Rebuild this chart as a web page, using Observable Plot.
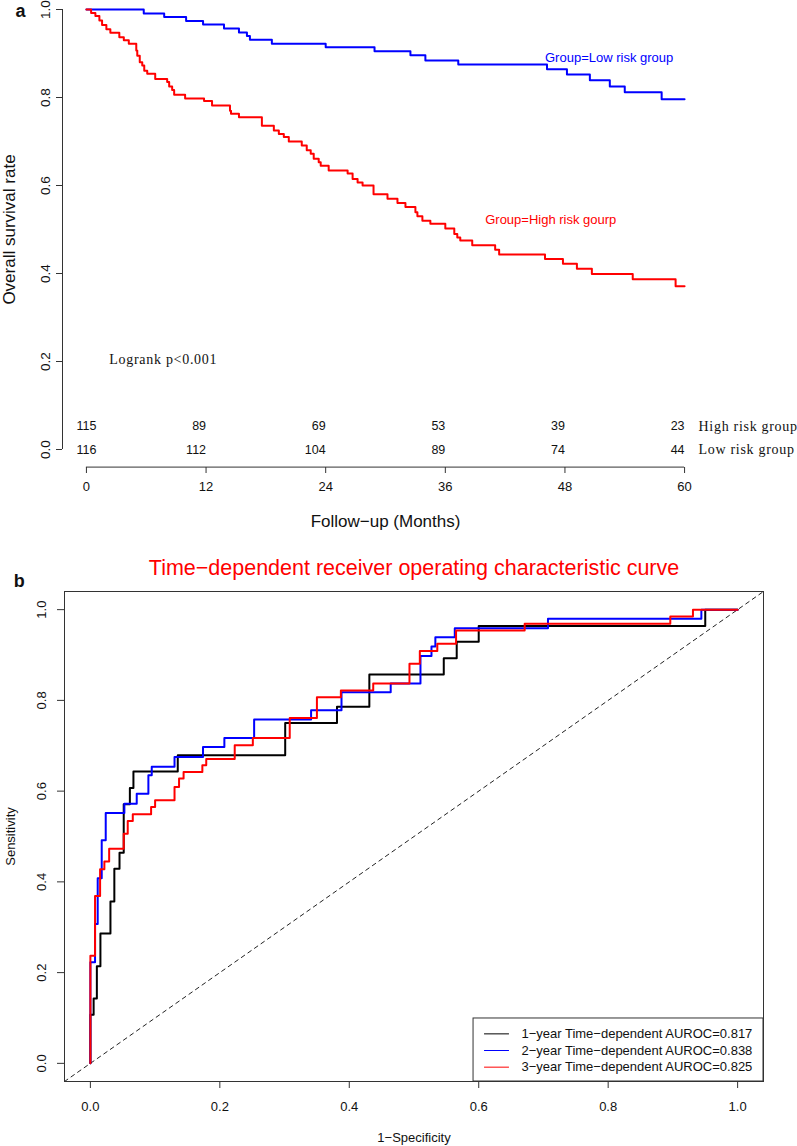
<!DOCTYPE html>
<html><head><meta charset="utf-8">
<script src="https://cdn.jsdelivr.net/npm/d3@7"></script>
<script src="https://cdn.jsdelivr.net/npm/@observablehq/plot@0.6"></script>
<style>
html,body{margin:0;padding:0;background:#fff;}
#chart{width:797px;}
#chart svg{display:block;}
</style></head><body><div id="chart"></div>
<script>
// ---------- Panel a: Kaplan-Meier ----------
const lowTime = [0, 5.75, 7.8, 10.0, 11.7, 13.8, 15.3, 16.1, 16.4, 18.6, 24.0, 28.9, 32.5, 34.0, 37.3, 46.2, 48.2, 50.5, 52.5, 54.0, 57.7, 60];
const lowSurv = [1.0, 0.991, 0.983, 0.974, 0.966, 0.957, 0.948, 0.940, 0.931, 0.922, 0.914, 0.905, 0.896, 0.884, 0.875, 0.864, 0.852, 0.839, 0.825, 0.812, 0.796, 0.796];
const highTime = [0, 0.47, 0.9, 1.3, 1.57, 2.0, 2.4, 3.3, 3.75, 4.25, 5.0, 5.1, 5.35, 5.6, 5.8, 6.1, 6.9, 8.1, 8.3, 8.6, 8.8, 9.9, 11.8, 12.6, 14.4, 14.5, 15.3, 17.6, 18.8, 19.3, 19.8, 20.3, 21.6, 22.1, 22.5, 22.8, 23.3, 23.5, 24.3, 26.2, 26.7, 27.2, 27.7, 28.8, 30.2, 31.2, 32.0, 33.0, 33.2, 33.7, 34.5, 36.0, 36.9, 37.2, 37.5, 38.7, 41.0, 41.4, 46.0, 47.8, 49.2, 50.7, 54.8, 59.1, 60];
const highSurv = [1.0, 0.992, 0.985, 0.975, 0.965, 0.955, 0.947, 0.937, 0.930, 0.922, 0.907, 0.895, 0.880, 0.873, 0.861, 0.854, 0.842, 0.835, 0.825, 0.817, 0.806, 0.798, 0.792, 0.782, 0.770, 0.763, 0.755, 0.736, 0.725, 0.717, 0.710, 0.700, 0.691, 0.680, 0.672, 0.661, 0.653, 0.645, 0.634, 0.627, 0.615, 0.607, 0.600, 0.580, 0.570, 0.560, 0.551, 0.539, 0.530, 0.520, 0.513, 0.502, 0.490, 0.482, 0.475, 0.464, 0.454, 0.443, 0.433, 0.422, 0.411, 0.399, 0.387, 0.371, 0.371];
const kmTicksX = [0, 12, 24, 36, 48, 60];
const kmTicksY = [0, 0.2, 0.4, 0.6, 0.8, 1.0];
const riskHigh = [115, 89, 69, 53, 39, 23];
const riskLow = [116, 112, 104, 89, 74, 44];
const groupLabels = ["High risk group", "Low risk group"];

// ---------- Panel b: time-dependent ROC ----------
const fpr1 = [0, 0, 0.005, 0.010, 0.0155, 0.031, 0.037, 0.045, 0.0515, 0.061, 0.0665, 0.135, 0.301, 0.381, 0.431, 0.546, 0.566, 0.600, 0.950, 1.0];
const tpr1 = [0, 0.107, 0.143, 0.214, 0.286, 0.357, 0.429, 0.464, 0.571, 0.607, 0.643, 0.679, 0.750, 0.786, 0.857, 0.893, 0.929, 0.964, 1.0, 1.0];
const fpr2 = [0, 0, 0.0072, 0.0113, 0.0175, 0.0237, 0.0525, 0.0716, 0.0896, 0.0948, 0.130, 0.174, 0.207, 0.253, 0.341, 0.388, 0.464, 0.510, 0.527, 0.533, 0.563, 0.707, 0.944, 1.0];
const tpr2 = [0, 0.223, 0.307, 0.408, 0.492, 0.552, 0.572, 0.594, 0.635, 0.654, 0.675, 0.697, 0.717, 0.758, 0.778, 0.818, 0.837, 0.898, 0.919, 0.939, 0.959, 0.980, 1.0, 1.0];
const fpr3 = [0, 0, 0.0072, 0.015, 0.0216, 0.029, 0.0515, 0.0577, 0.0655, 0.0938, 0.100, 0.130, 0.137, 0.144, 0.173, 0.179, 0.223, 0.251, 0.308, 0.350, 0.387, 0.437, 0.493, 0.509, 0.536, 0.565, 0.671, 0.896, 0.931, 1.0];
const tpr3 = [0, 0.237, 0.369, 0.428, 0.445, 0.473, 0.506, 0.534, 0.549, 0.565, 0.580, 0.609, 0.628, 0.642, 0.657, 0.671, 0.701, 0.717, 0.761, 0.807, 0.822, 0.837, 0.881, 0.909, 0.925, 0.954, 0.969, 0.985, 1.0, 1.0];
const rocTicks = [0, 0.2, 0.4, 0.6, 0.8, 1.0];
const diagonal = [-0.04, 1.04];
const legendLabels = ["1\u2212year Time\u2212dependent AUROC=0.817", "2\u2212year Time\u2212dependent AUROC=0.838", "3\u2212year Time\u2212dependent AUROC=0.825"];

// styles
const BLUE = "#0000ff", RED = "#ff0000", BLACK = "#000000";
const SANS = "Liberation Sans, Arial, Helvetica, sans-serif";
const SERIF = "Liberation Serif";
const AX = "#333";

const zip = (xs, ys) => xs.map((x, i) => ({x, y: ys[i]}));
const lowData = zip(lowTime, lowSurv);
const highData = zip(highTime, highSurv);
const riskRows = kmTicksX.map((t, i) => ({t, high: riskHigh[i], low: riskLow[i], i}));

const plotA = Plot.plot({
  width: 797, height: 540,
  marginLeft: 62, marginRight: 89, marginTop: 0, marginBottom: 73,
  style: {fontFamily: SANS, fontSize: "13px", color: "#111", background: "#fff", overflow: "visible"},
  x: {domain: [-2.4, 62.4], axis: null},
  y: {domain: [0, 1], range: [449, 9], axis: null},
  marks: [
    Plot.ruleX([-2.4], {y1: 0, y2: 1, stroke: AX}),
    Plot.ruleY([-0.04], {x1: 0, x2: 60, stroke: AX}),
    Plot.axisY(kmTicksY, {anchor: "left", tickSize: 6, tickRotate: -90, tickPadding: 6.7, fontSize: 13.5, stroke: AX, tickFormat: d3.format(".1f"), label: null}),
    Plot.axisX(kmTicksX, {anchor: "bottom", tickSize: 6, tickPadding: 8.7, fontSize: 13, stroke: AX, label: null}),
    Plot.line(lowData, {x: "x", y: "y", curve: "step-after", stroke: BLUE, strokeWidth: 2}),
    Plot.line(highData, {x: "x", y: "y", curve: "step-after", stroke: RED, strokeWidth: 2}),
    Plot.text(["Group=Low risk group"], {x: 46, y: 0.89, text: d => d, fill: BLUE, fontSize: 13, textAnchor: "start", lineAnchor: "middle"}),
    Plot.text(["Group=High risk gourp"], {x: 40, y: 0.521, text: d => d, fill: RED, fontSize: 13, textAnchor: "start", lineAnchor: "middle"}),
    Plot.text(["Logrank p<0.001"], {x: 2.3, y: 0.205, text: d => d, fontFamily: SERIF, fontSize: 14, textAnchor: "start", lineAnchor: "middle"}),
    Plot.text(riskRows, {filter: d => d.i === 0, x: "t", y: 0.053, text: "high", fontSize: 12.5, textAnchor: "middle", lineAnchor: "middle"}),
    Plot.text(riskRows, {filter: d => d.i > 0, x: "t", y: 0.053, text: "high", fontSize: 12.5, textAnchor: "end", lineAnchor: "middle"}),
    Plot.text(riskRows, {filter: d => d.i === 0, x: "t", y: 0, text: "low", fontSize: 12.5, textAnchor: "middle", lineAnchor: "middle"}),
    Plot.text(riskRows, {filter: d => d.i > 0, x: "t", y: 0, text: "low", fontSize: 12.5, textAnchor: "end", lineAnchor: "middle"}),
    Plot.text(groupLabels, {x: 61.4, y: (d, i) => i === 0 ? 0.053 : 0, text: d => d, fontFamily: SERIF, fontSize: 14, textAnchor: "start", lineAnchor: "middle"}),
    Plot.text(["Follow\u2212up (Months)"], {x: 30, y: -0.1766, text: d => d, fontSize: 17, textAnchor: "middle", lineAnchor: "bottom"}),
    Plot.text(["Overall survival rate"], {x: -7.12, y: 0.5, text: d => d, fontSize: 17, rotate: -90, textAnchor: "middle", lineAnchor: "bottom"}),
    Plot.text(["a"], {x: -7.12, y: 0.984, text: d => d, fontSize: 18, fontWeight: "bold", textAnchor: "start", lineAnchor: "bottom"})
  ]
});

const roc1 = zip(fpr1, tpr1), roc2 = zip(fpr2, tpr2), roc3 = zip(fpr3, tpr3);
const legendRows = legendLabels.map((label, i) => ({label, color: [BLACK, BLUE, RED][i], i}));

const plotB = Plot.plot({
  width: 797, height: 606,
  marginLeft: 64, marginRight: 34, marginTop: 51, marginBottom: 65,
  style: {fontFamily: SANS, fontSize: "13px", color: "#111", background: "#fff", overflow: "visible"},
  x: {domain: [-0.04, 1.04], axis: null},
  y: {domain: [-0.04, 1.04], axis: null},
  color: {type: "identity"},
  marks: [
    Plot.line(diagonal, {x: d => d, y: d => d, stroke: "#222", strokeWidth: 1, strokeDasharray: "4,4"}),
    Plot.line(roc1, {x: "x", y: "y", curve: "step-after", stroke: BLACK, strokeWidth: 2}),
    Plot.line(roc2, {x: "x", y: "y", curve: "step-after", stroke: BLUE, strokeWidth: 2}),
    Plot.line(roc3, {x: "x", y: "y", curve: "step-after", stroke: RED, strokeWidth: 2}),
    Plot.frame({stroke: AX}),
    Plot.axisY(rocTicks, {anchor: "left", tickSize: 7, tickRotate: -90, tickPadding: 12, fontSize: 13, stroke: AX, tickFormat: d3.format(".1f"), label: null}),
    Plot.axisX(rocTicks, {anchor: "bottom", tickSize: 7, tickPadding: 13, fontSize: 13, stroke: AX, tickFormat: d3.format(".1f"), label: null}),
    Plot.rect([0], {x1: 0.592, x2: 1.04, y1: -0.04, y2: 0.0989, fill: "white", stroke: AX}),
    Plot.ruleY(legendRows, {y: d => 0.065 - d.i * 0.0367, x1: 0.609, x2: 0.6475, stroke: "color", strokeWidth: 1}),
    Plot.text(legendRows, {y: d => 0.065 - d.i * 0.0367, x: 0.666, text: "label", fontSize: 13, textAnchor: "start", lineAnchor: "middle"}),
    Plot.text(["Time\u2212dependent receiver operating characteristic curve"], {x: 0.5, y: 1.0753, text: d => d, fill: RED, fontSize: 21.5, textAnchor: "middle", lineAnchor: "bottom"}),
    Plot.text(["b"], {x: -0.1183, y: 1.0495, text: d => d, fontSize: 18, fontWeight: "bold", textAnchor: "start", lineAnchor: "bottom"}),
    Plot.text(["Sensitivity"], {x: -0.1165, y: 0.5, text: d => d, fontSize: 13, rotate: -90, textAnchor: "middle", lineAnchor: "bottom"}),
    Plot.text(["1\u2212Specificity"], {x: 0.5, y: -0.1744, text: d => d, fontSize: 13, textAnchor: "middle", lineAnchor: "bottom"})
  ]
});

for (const svg of [plotA, plotB]) {
  svg.querySelectorAll('g[font-family="Liberation Serif"]').forEach(g => g.style.letterSpacing = "0.7px");
}
const chart = document.getElementById("chart");
chart.appendChild(plotA);
chart.appendChild(plotB);
</script></body></html>
